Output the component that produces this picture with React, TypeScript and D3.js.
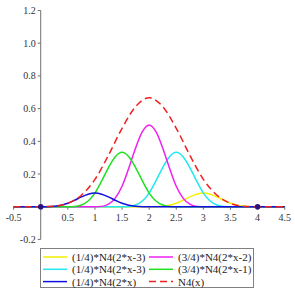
import React from "react";
import * as d3 from "d3";

// samples every 0.125 in x over each curve's support
const blueStart = 0; // (1/4)*N4(2*x)
const blueVals = [0, 0.0003, 0.0026, 0.0088, 0.0208, 0.0394, 0.0599, 0.0765, 0.0833, 0.0765, 0.0599, 0.0394, 0.0208, 0.0088, 0.0026, 0.0003, 0];
const greenStart = 0.5; // (3/4)*N4(2*x-1)
const greenVals = [0, 0.0013, 0.0104, 0.0352, 0.0833, 0.1576, 0.2396, 0.306, 0.3333, 0.306, 0.2396, 0.1576, 0.0833, 0.0352, 0.0104, 0.0013, 0];
const magentaStart = 1; // (3/4)*N4(2*x-2)
const magentaVals = [0, 0.002, 0.0156, 0.0527, 0.125, 0.2363, 0.3594, 0.459, 0.5, 0.459, 0.3594, 0.2363, 0.125, 0.0527, 0.0156, 0.002, 0];
const cyanStart = 1.5; // (1/4)*N4(2*x-3)
const cyanVals = [0, 0.0013, 0.0104, 0.0352, 0.0833, 0.1576, 0.2396, 0.306, 0.3333, 0.306, 0.2396, 0.1576, 0.0833, 0.0352, 0.0104, 0.0013, 0];
const yellowStart = 2;
const yellowVals = [0, 0.0003, 0.0026, 0.0088, 0.0208, 0.0394, 0.0599, 0.0765, 0.0833, 0.0765, 0.0599, 0.0394, 0.0208, 0.0088, 0.0026, 0.0003, 0];
// N4(x), every 0.25
const n4Start = 0;
const n4Vals = [0, 0.0026, 0.0208, 0.0703, 0.1667, 0.3151, 0.4792, 0.612, 0.6667, 0.612, 0.4792, 0.3151, 0.1667, 0.0703, 0.0208, 0.0026, 0];

const xTicks = [-0.5, 0.5, 1, 1.5, 2, 2.5, 3, 3.5, 4, 4.5];
const yTicks = [-0.2, 0.2, 0.4, 0.6, 0.8, 1.0, 1.2];
const knotDots = [0, 4];

const legendLabels = [
  "(1/4)*N4(2*x-3)", "(3/4)*N4(2*x-2)",
  "(1/4)*N4(2*x-3)", "(3/4)*N4(2*x-1)",
  "(1/4)*N4(2*x)", "N4(x)",
];
const legendColors = ["#f2f200", "#f020f0", "#20e8f0", "#20e020", "#1010e0", "#f02020"];

const x = d3.scaleLinear().domain([-0.5, 4.5]).range([13.6, 284.7]);
const y = d3.scaleLinear().domain([-0.2, 1.2]).range([239.4, 10.5]);

const toPts = (start: number, step: number, vals: number[]) => {
  const pts: [number, number][] = [[-0.5, 0]];
  vals.forEach((v, i) => pts.push([start + i * step, v]));
  pts.push([4.5, 0]);
  return pts;
};

const line = d3
  .line<[number, number]>()
  .x((d) => x(d[0]))
  .y((d) => y(d[1]))
  .curve(d3.curveMonotoneX);

const series = [
  { pts: toPts(yellowStart, 0.125, yellowVals), color: legendColors[0] },
  { pts: toPts(cyanStart, 0.125, cyanVals), color: legendColors[2] },
  { pts: toPts(magentaStart, 0.125, magentaVals), color: legendColors[1] },
  { pts: toPts(greenStart, 0.125, greenVals), color: legendColors[3] },
  { pts: toPts(blueStart, 0.125, blueVals), color: legendColors[4] },
];

const serif = { fontFamily: "'Liberation Serif', 'DejaVu Serif', serif" };

const App = () => {
  return (
    <svg width={295} height={295} style={{ position: "absolute", left: 0, top: 0, background: "#fff" }}>
      {/* axes */}
      <line x1={x(-0.5)} x2={x(4.5)} y1={y(0)} y2={y(0)} stroke="#707070" strokeWidth={1} />
      <line x1={x(0)} x2={x(0)} y1={y(-0.2)} y2={y(1.2)} stroke="#707070" strokeWidth={1} />
      {xTicks.map((t) => (
        <g key={"x" + t}>
          <line x1={x(t)} x2={x(t)} y1={y(0)} y2={y(0) + 3} stroke="#707070" />
          <text x={x(t)} y={y(0) + 14} textAnchor="middle" fontSize={10} style={serif} fill="#333">
            {t}
          </text>
        </g>
      ))}
      {yTicks.map((t) => (
        <g key={"y" + t}>
          <line x1={x(0) - 3} x2={x(0)} y1={y(t)} y2={y(t)} stroke="#707070" />
          <text x={x(0) - 5} y={y(t) + 3.5} textAnchor="end" fontSize={10} style={serif} fill="#333">
            {t.toFixed(1)}
          </text>
        </g>
      ))}
      {/* curves */}
      {series.map((s, i) => (
        <path key={i} d={line(s.pts) ?? ""} fill="none" stroke={s.color} strokeWidth={1.5} />
      ))}
      <path d={line(toPts(n4Start, 0.25, n4Vals)) ?? ""} fill="none" stroke={legendColors[5]} strokeWidth={1.5} strokeDasharray="7,4" />
      {knotDots.map((k) => (
        <circle key={k} cx={x(k)} cy={y(0)} r={2.8} fill="#2a1080" />
      ))}
      {/* legend */}
      <rect x={40.5} y={248.5} width={213} height={39} fill="#fff" stroke="#808080" />
      {legendLabels.map((lab, i) => {
        const col = i % 2;
        const row = Math.floor(i / 2);
        const lx = col === 0 ? 43 : 149;
        const ly = 257 + row * 12.3;
        return (
          <g key={i}>
            <line x1={lx} x2={lx + 24} y1={ly} y2={ly} stroke={legendColors[i]} strokeWidth={1.5}
              strokeDasharray={i === 5 ? "7,4" : undefined} />
            <text x={lx + 29} y={ly + 4} fontSize={11} style={serif} fill="#222">
              {lab}
            </text>
          </g>
        );
      })}
    </svg>
  );
};

export default App;
